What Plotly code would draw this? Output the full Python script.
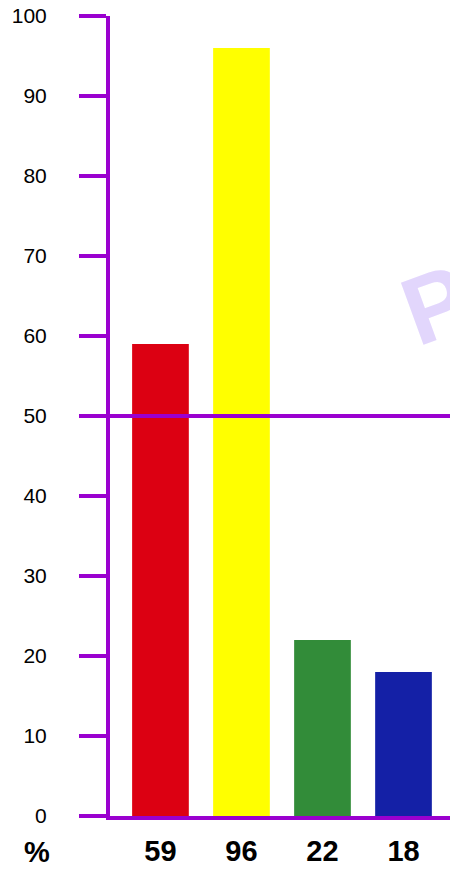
import plotly.graph_objects as go

# Bar values (percent) and their colours
categories = ["59", "96", "22", "18"]
values = [59, 96, 22, 18]
colors = ["#dc0012", "#ffff00", "#328c39", "#1420a6"]
y_ticks = [0, 10, 20, 30, 40, 50, 60, 70, 80, 90, 100]

PURPLE = "#9a00cf"

fig = go.Figure(
    go.Bar(
        x=list(range(len(values))),
        y=values,
        marker=dict(color=colors, line=dict(width=0)),
        width=0.70,
        hoverinfo="skip",
    )
)

fig.update_layout(
    width=450,
    height=870,
    margin=dict(l=110, r=0, t=16, b=54, autoexpand=False),
    paper_bgcolor="white",
    plot_bgcolor="white",
    showlegend=False,
    font=dict(family="Liberation Sans, Arial, sans-serif", color="black"),
)

fig.update_xaxes(
    range=[-0.623, 3.574],
    tickmode="array",
    tickvals=list(range(len(values))),
    ticktext=categories,
    ticks="",
    showgrid=False,
    zeroline=False,
    showline=True,
    linecolor=PURPLE,
    linewidth=4,
    automargin=False,
    tickfont=dict(size=29, family="Liberation Sans, Arial, sans-serif", weight="bold"),
    ticklabelstandoff=6,
)

fig.update_yaxes(
    range=[0, 100],
    tickmode="array",
    tickvals=y_ticks,
    ticks="outside",
    ticklen=27,
    tickwidth=4,
    tickcolor=PURPLE,
    showgrid=False,
    zeroline=False,
    showline=True,
    linecolor=PURPLE,
    linewidth=4,
    automargin=False,
    tickfont=dict(size=21),
    ticklabelstandoff=28,
)

# Reference line at 50 %
fig.add_shape(
    type="line", xref="paper", yref="y", x0=0, x1=1, y0=50, y1=50,
    line=dict(color=PURPLE, width=4), layer="above",
)

# Unit label under the value axis
fig.add_annotation(
    text="<b>%</b>", xref="paper", yref="paper", x=-0.215, y=-0.045,
    showarrow=False, font=dict(size=29), xanchor="center", yanchor="middle",
)

# Faint watermark letter
fig.add_annotation(
    text="<b>P</b>", xref="paper", yref="paper", x=0.96, y=0.64,
    showarrow=False, textangle=-20,
    font=dict(size=96, color="#e2d6fc", family="Liberation Sans, Arial, sans-serif"),
    xanchor="center", yanchor="middle",
)

fig.write_html("out.html")
